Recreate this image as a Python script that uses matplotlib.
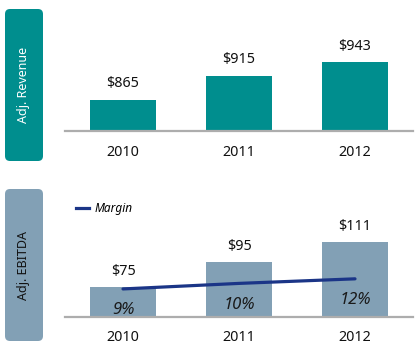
import matplotlib
matplotlib.use("Agg")
import matplotlib.pyplot as plt
from matplotlib.patches import FancyBboxPatch
from matplotlib.lines import Line2D

years = ["2010", "2011", "2012"]
revenue = [865, 915, 943]
ebitda = [75, 95, 111]
margin = [8.7, 10.4, 11.8]
margin_labels = ["9%", "10%", "12%"]

TEAL = "#008E8E"
STEEL = "#82A0B5"
NAVY = "#1B3587"
GRAY = "#ADADAD"

plt.rcParams['font.family'] = ['Noto Sans', 'DejaVu Sans']

W, H = 419, 364
fig = plt.figure(figsize=(W / 100, H / 100), dpi=100)

def fx(px):
    return px / W

def fy(px):
    return 1 - px / H

def side_box(top, bottom, color, text, tcolor):
    ax = fig.add_axes([fx(5), fy(bottom), fx(38), (bottom - top) / H])
    ax.set_xlim(0, 38)
    ax.set_ylim(0, bottom - top)
    ax.axis("off")
    ax.add_patch(FancyBboxPatch((0, 0), 38, bottom - top,
                                boxstyle="round,pad=0,rounding_size=5",
                                facecolor=color, edgecolor="none"))
    ax.text(19, (bottom - top) / 2, text, rotation=90, ha="center", va="center",
            color=tcolor, fontsize=9)

side_box(9, 161, TEAL, "Adj. Revenue", "white")
side_box(189, 341, STEEL, "Adj. EBITDA", "#111111")

x = list(range(len(years)))
left, width = fx(65), fx(348)
FS = 10.3

def style(ax, lo, hi):
    ax.set_xlim(-0.5, 2.5)
    ax.set_ylim(lo, hi)
    for s in ["top", "right", "left"]:
        ax.spines[s].set_visible(False)
    ax.spines["bottom"].set_color(GRAY)
    ax.spines["bottom"].set_linewidth(1.6)
    ax.set_xticks([])
    ax.set_yticks([])
    ax.patch.set_alpha(0)

# Top panel
ax1 = fig.add_axes([left, fy(131.3), width, (131.3 - 20) / H])
style(ax1, 800, 1030)
ax1.bar(x, revenue, width=0.57, color=TEAL, zorder=2)
for i, v in enumerate(revenue):
    ax1.annotate(f"${v}", (i, v), xytext=(0, 11.5), textcoords="offset points",
                 ha="center", va="center", fontsize=FS, color="#111111")
    ax1.annotate(years[i], (i, 800), xytext=(0, -15.3), textcoords="offset points",
                 ha="center", va="center", fontsize=FS, color="#111111",
                 annotation_clip=False)

# Bottom panel
ax2 = fig.add_axes([left, fy(317.3), width, (317.3 - 200) / H])
style(ax2, 51, 51 + 117.3 / 1.25)
ax2.bar(x, ebitda, width=0.57, color=STEEL, zorder=2)
for i, v in enumerate(ebitda):
    ax2.annotate(f"${v}", (i, v), xytext=(0, 11.5), textcoords="offset points",
                 ha="center", va="center", fontsize=FS, color="#111111")
    ax2.annotate(years[i], (i, 51), xytext=(0, -14.3), textcoords="offset points",
                 ha="center", va="center", fontsize=FS, color="#111111",
                 annotation_clip=False)

ax3 = ax2.twinx()
ax3.set_position(ax2.get_position())
ax3.set_ylim(0, 117.3 / 3.26)
ax3.set_xlim(-0.5, 2.5)
ax3.axis("off")
ax3.plot(x, margin, color=NAVY, linewidth=2.3, solid_capstyle="round", zorder=3)
for i, v in enumerate(margin):
    ax3.annotate(margin_labels[i], (i, v), xytext=(0, -15.5), textcoords="offset points",
                 ha="center", va="center", fontsize=12, style="italic", color="#1a1a1a")

handle = Line2D([], [], color=NAVY, linewidth=2.3)
fig.legend([handle], ["Margin"], loc="center left", bbox_to_anchor=(fx(76), fy(209)),
           frameon=False, borderpad=0, borderaxespad=0, handlelength=1.1,
           handletextpad=0.5, prop={"size": 8.5, "style": "italic"})

fig.savefig("out.png", dpi=100)
